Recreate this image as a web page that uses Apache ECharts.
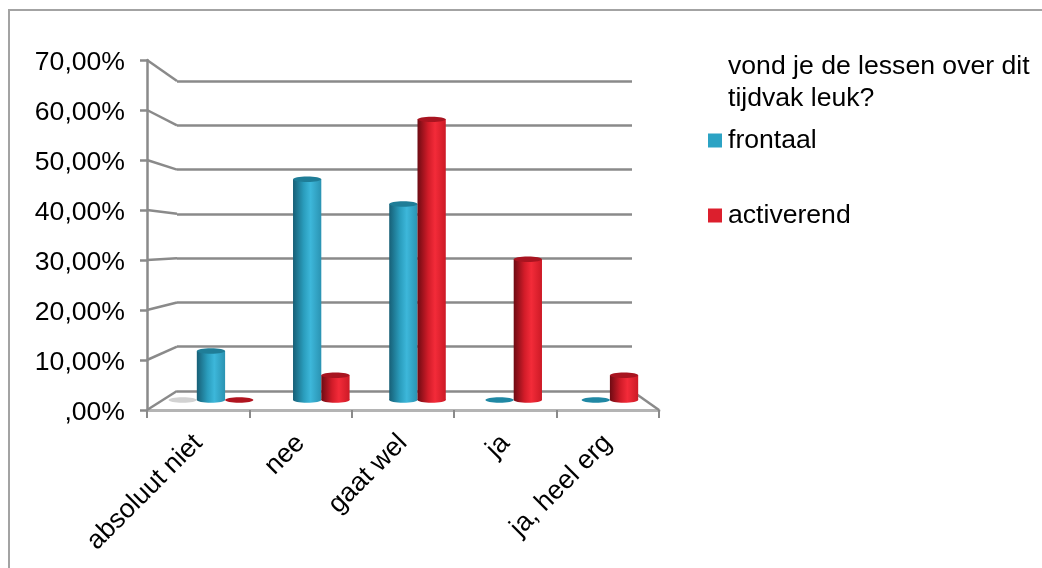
<!DOCTYPE html>
<html>
<head>
<meta charset="utf-8">
<title>vond je de lessen over dit tijdvak leuk?</title>
<script src="https://cdn.jsdelivr.net/npm/echarts@6/dist/echarts.min.js"></script>
<style>html,body{margin:0;padding:0;background:#fff}#chart{width:1042px;height:568px}</style>
</head>
<body>
<div id="chart"></div>
<script>
// Survey answers, in percent
const categories = ['absoluut niet', 'nee', 'gaat wel', 'ja', 'ja, heel erg'];
const frontaal = [10.3, 46.4, 41.2, 0, 0];
const activerend = [0, 5.2, 59, 29.6, 5.2];
const blanco = [0, null, null, null, null];
const valueTicks = [0, 10, 20, 30, 40, 50, 60, 70];
const tickLabels = [',00%', '10,00%', '20,00%', '30,00%', '40,00%', '50,00%', '60,00%', '70,00%'];
const questionTitle = 'vond je de lessen over dit\ntijdvak leuk?';

const FONT = '"Liberation Sans", Arial, sans-serif';
const GRID_COLOR = '#8a8a8a';
const TEXT_SIZE = 26.6;

// Box layout: front wall, back wall and the plane the columns stand on
const front = { left: 147, top: 60, width: 512, height: 350 };
const back = { left: 177, top: 81, width: 455, height: 310 };
const plane = { left: 177, top: 67, width: 481, height: 333 };
const backY = v => back.top + back.height * (1 - v / 70);

const columnShare = 0.294;
const ellipseRy = 2.7;

const paints = {
  blue: {
    stops: ['#175f76', '#2a9dbd', '#3db7da', '#2a93b2'],
    cap: '#1f7d97', flat: '#2088a4'
  },
  red: {
    stops: ['#6e0b13', '#d21c29', '#f32b39', '#cc1a26'],
    cap: '#a81420', flat: '#b0141f'
  },
  grey: { stops: ['#cfcfcf', '#cfcfcf'], cap: '#cfcfcf', flat: '#d2d2d2' }
};

function gradient(stops) {
  const at = stops.length === 4 ? [0, 0.38, 0.62, 1] : [0, 1];
  return {
    type: 'linear', x: 0, y: 0, x2: 1, y2: 0,
    colorStops: stops.map((color, i) => ({ offset: at[i], color }))
  };
}

function columnRenderer(paint, offsetColumns) {
  return function (params, api) {
    const value = api.value(1);
    const centre = api.coord([api.value(0), 0]);
    const top = api.coord([api.value(0), value]);
    const w = api.size([1, 0])[0] * columnShare;
    const cx = centre[0] + offsetColumns * w;
    const rx = w / 2;
    if (value === 0) {
      return {
        type: 'ellipse',
        shape: { cx, cy: centre[1], rx, ry: ellipseRy },
        style: { fill: paint.flat }
      };
    }
    const fill = gradient(paint.stops);
    return {
      type: 'group',
      children: [
        { type: 'ellipse', shape: { cx, cy: centre[1], rx, ry: ellipseRy }, style: { fill } },
        { type: 'rect', shape: { x: cx - rx, y: top[1], width: w, height: centre[1] - top[1] }, style: { fill } },
        { type: 'ellipse', shape: { cx, cy: top[1], rx, ry: ellipseRy }, style: { fill: paint.cap } }
      ]
    };
  };
}

function columnSeries(name, values, paint, offsetColumns, color) {
  return {
    name,
    type: 'custom',
    xAxisIndex: 2,
    yAxisIndex: 2,
    z: 5,
    itemStyle: { color },
    data: values.map((v, i) => [i, v]).filter(d => d[1] !== null),
    renderItem: columnRenderer(paint, offsetColumns)
  };
}

// Side wall connectors from the front value axis to the back wall, plus the floor's right edge
function wallRenderer(params, api) {
  const v = api.value(1);
  const y = api.coord([0, v])[1];
  return {
    type: 'polyline',
    shape: { points: [[params.coordSys.x, y], [back.left, backY(v)]] },
    style: { stroke: GRID_COLOR, lineWidth: 2.5, fill: null }
  };
}

function floorEdgeRenderer(params, api) {
  const y = api.coord([0, 0])[1];
  return {
    type: 'polyline',
    shape: { points: [[params.coordSys.x + params.coordSys.width, y], [back.left + back.width, backY(0)]] },
    style: { stroke: GRID_COLOR, lineWidth: 2.5, fill: null }
  };
}

const hiddenAxis = { show: false };
const chart = echarts.init(document.getElementById('chart'), null, { renderer: 'canvas' });

chart.setOption({
  animation: false,
  backgroundColor: '#ffffff',
  textStyle: { fontFamily: FONT },
  title: {
    text: questionTitle,
    left: 723,
    top: 46,
    textStyle: { fontFamily: FONT, fontWeight: 'normal', fontSize: TEXT_SIZE, lineHeight: 32, color: '#000' }
  },
  legend: {
    data: ['frontaal', 'activerend'],
    orient: 'vertical',
    left: 703,
    top: 122,
    itemWidth: 14,
    itemHeight: 14,
    itemGap: 48,
    icon: 'rect',
    textStyle: { fontFamily: FONT, fontSize: TEXT_SIZE, color: '#000', padding: [0, 0, 0, 1] }
  },
  graphic: [{
    type: 'polyline',
    silent: true,
    shape: { points: [[9, 568], [9, 10], [1042, 10]] },
    style: { stroke: '#a3a3a3', lineWidth: 2, fill: null }
  }],
  grid: [
    { ...front, containLabel: false },
    { ...back, containLabel: false },
    { ...plane, containLabel: false }
  ],
  xAxis: [
    {
      gridIndex: 0,
      type: 'category',
      data: categories,
      boundaryGap: true,
      axisLine: { lineStyle: { color: '#b4b4b4', width: 3 } },
      axisTick: { show: true, alignWithLabel: false, length: 8, lineStyle: { color: GRID_COLOR, width: 2 } },
      axisLabel: { interval: 0, rotate: 45, fontFamily: FONT, fontSize: TEXT_SIZE, color: '#000', margin: 29 }
    },
    { gridIndex: 1, type: 'category', data: categories, ...hiddenAxis },
    { gridIndex: 2, type: 'category', data: categories, ...hiddenAxis }
  ],
  yAxis: [
    {
      gridIndex: 0,
      type: 'value',
      min: 0,
      max: 70,
      interval: 10,
      axisLine: { show: true, lineStyle: { color: GRID_COLOR, width: 2.5 } },
      axisTick: { show: true, length: 7, lineStyle: { color: GRID_COLOR, width: 2.5 } },
      splitLine: { show: false },
      axisLabel: {
        fontFamily: FONT, fontSize: TEXT_SIZE, color: '#000', margin: 22,
        verticalAlign: 'top', lineHeight: 6,
        formatter: v => tickLabels[valueTicks.indexOf(v)]
      }
    },
    {
      gridIndex: 1,
      type: 'value',
      min: 0,
      max: 70,
      interval: 10,
      axisLine: { show: false },
      axisTick: { show: false },
      axisLabel: { show: false },
      splitLine: { show: true, lineStyle: { color: GRID_COLOR, width: 2.5 } }
    },
    { gridIndex: 2, type: 'value', min: 0, max: 70, interval: 10, ...hiddenAxis }
  ],
  series: [
    {
      type: 'custom',
      xAxisIndex: 0,
      yAxisIndex: 0,
      z: 1,
      silent: true,
      clip: false,
      data: valueTicks.map(v => [0, v]),
      renderItem: wallRenderer
    },
    {
      type: 'custom',
      xAxisIndex: 0,
      yAxisIndex: 0,
      z: 1,
      silent: true,
      clip: false,
      data: [[0, 0]],
      renderItem: floorEdgeRenderer
    },
    columnSeries('blanco', blanco, paints.grey, -1.5, '#cfcfcf'),
    columnSeries('frontaal', frontaal, paints.blue, -0.5, '#2ca3c4'),
    columnSeries('activerend', activerend, paints.red, 0.5, '#dc1f2d')
  ]
});
</script>
</body>
</html>
